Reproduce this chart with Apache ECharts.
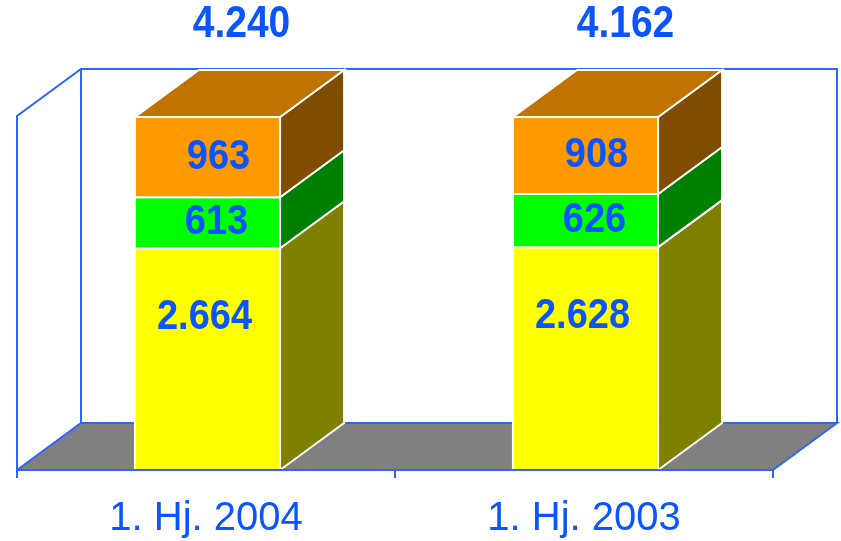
<!DOCTYPE html>
<html>
<head>
<meta charset="utf-8">
<script src="https://cdn.jsdelivr.net/npm/echarts@6/dist/echarts.min.js"></script>
<style>
html,body{margin:0;padding:0;background:#fff;}
#chart{width:841px;height:541px;}
</style>
</head>
<body>
<div id="chart"></div>
<script>
// ---- data ----
const categories = ['1. Hj. 2004', '1. Hj. 2003'];
const yellowValues = [2664, 2628];
const greenValues = [613, 626];
const orangeValues = [963, 908];
const totalValues = [4240, 4162];

// ---- style constants ----
const DX = 64, DY = -47;          // 3D depth offset (px)
const BAR_FRAC = 0.384;           // bar width as fraction of band
const BLUE_TEXT = '#0A55FF';
const BLUE_LINE = '#2A66FF';
const FONT = '"Liberation Sans", Arial, sans-serif';

function fmt(v) {
  return String(v).replace(/\B(?=(\d{3})+(?!\d))/g, '.');
}

// 100% stacked: heights are shares of each column's total
function pct(v, i) { return v / totalValues[i] * 100; }
const yellowBase = yellowValues.map(() => 0);
const greenBase = yellowValues.map((v, i) => pct(v, i));
const orangeBase = yellowValues.map((v, i) => pct(v + greenValues[i], i));

function segSeries(name, values, base, front, side, top, labelFrac, labelDx, isTop) {
  return {
    type: 'custom',
    name: name,
    clip: false,
    z: 5,
    data: values.map((v, i) => [i, base[i], base[i] + pct(v, i), v, totalValues[i]]),
    renderItem: function (params, api) {
      const i = api.value(0);
      const p0 = api.coord([i, api.value(1)]);
      const p1 = api.coord([i, api.value(2)]);
      const w = api.size([1, 0])[0] * BAR_FRAC;
      const cx = p0[0] + 1.5;
      const xl = cx - w / 2, xr = cx + w / 2;
      const yb = p0[1], yt = p1[1];
      const stroke = { stroke: '#ffffff', lineWidth: 2 };
      const children = [
        { type: 'rect', shape: { x: xl, y: yt, width: w, height: yb - yt },
          style: Object.assign({ fill: front }, stroke) },
        { type: 'polygon', shape: { points: [[xr, yb], [xr + DX, yb + DY], [xr + DX, yt + DY], [xr, yt]] },
          style: Object.assign({ fill: side }, stroke) }
      ];
      if (isTop) {
        children.push({ type: 'polygon', shape: { points: [[xl, yt], [xr, yt], [xr + DX, yt + DY], [xl + DX, yt + DY]] },
          style: Object.assign({ fill: top }, stroke) });
        children.push({ type: 'text', x: cx + DX / 2 + 2 + i * 6, y: params.coordSys.y - 91, scaleY: 1.12, style: {
          text: fmt(api.value(4)), x: 0, y: 0,
          fill: BLUE_TEXT, font: 'bold 39px ' + FONT, align: 'center', verticalAlign: 'middle' } });
      }
      children.push({ type: 'text', x: cx + labelDx, y: yt + (yb - yt) * labelFrac, scaleY: 1.1, style: {
        text: fmt(api.value(3)), x: 0, y: 0,
        fill: BLUE_TEXT, font: 'bold 38px ' + FONT, align: 'center', verticalAlign: 'middle' } });
      return { type: 'group', children: children };
    }
  };
}

const frameSeries = {
  type: 'custom',
  name: 'frame',
  clip: false,
  z: 1,
  data: [[0, 0]],
  renderItem: function (params, api) {
    const c = params.coordSys;
    const x0 = c.x, x1 = c.x + c.width, yT = c.y, yB = c.y + c.height;
    const ln = { stroke: BLUE_LINE, lineWidth: 2 };
    return { type: 'group', children: [
      { type: 'polygon', shape: { points: [[x0, yB], [x1, yB], [x1 + DX, yB + DY], [x0 + DX, yB + DY]] },
        style: { fill: '#808080' } },
      { type: 'polyline', shape: { points: [[x0, yB], [x0 + DX, yB + DY], [x1 + DX, yB + DY], [x1, yB]] }, style: Object.assign({ fill: null }, ln) },
      { type: 'polyline', shape: { points: [[x0, yB], [x0, yT], [x0 + DX, yT + DY], [x1 + DX, yT + DY], [x1 + DX, yB + DY]] }, style: Object.assign({ fill: null }, ln) },
      { type: 'line', shape: { x1: x0 + DX, y1: yT + DY, x2: x0 + DX, y2: yB + DY }, style: ln }
    ] };
  }
};

const chart = echarts.init(document.getElementById('chart'), null, { renderer: 'canvas' });
chart.setOption({
  animation: false,
  backgroundColor: '#ffffff',
  grid: { left: 17, right: 68, top: 116, bottom: 71 },
  xAxis: {
    type: 'category',
    data: categories,
    boundaryGap: true,
    z: 10,
    axisLine: { show: true, lineStyle: { color: BLUE_LINE, width: 2 } },
    axisTick: { show: true, length: 8, lineStyle: { color: BLUE_LINE, width: 2 } },
    axisLabel: { color: BLUE_TEXT, fontSize: 40, fontFamily: FONT, margin: 29, lineHeight: 40 }
  },
  yAxis: {
    type: 'value', min: 0, max: 100.3,
    show: false,
    splitLine: { show: false }
  },
  series: [
    frameSeries,
    segSeries('yellow', yellowValues, yellowBase, '#FFFF00', '#808000', null, 0.31, -3, false),
    segSeries('green', greenValues, greenBase, '#00FF00', '#008000', null, 0.5, 9, false),
    segSeries('orange', orangeValues, orangeBase, '#FF9900', '#804C00', '#C07300', 0.5, 11, true)
  ]
});
</script>
</body>
</html>
